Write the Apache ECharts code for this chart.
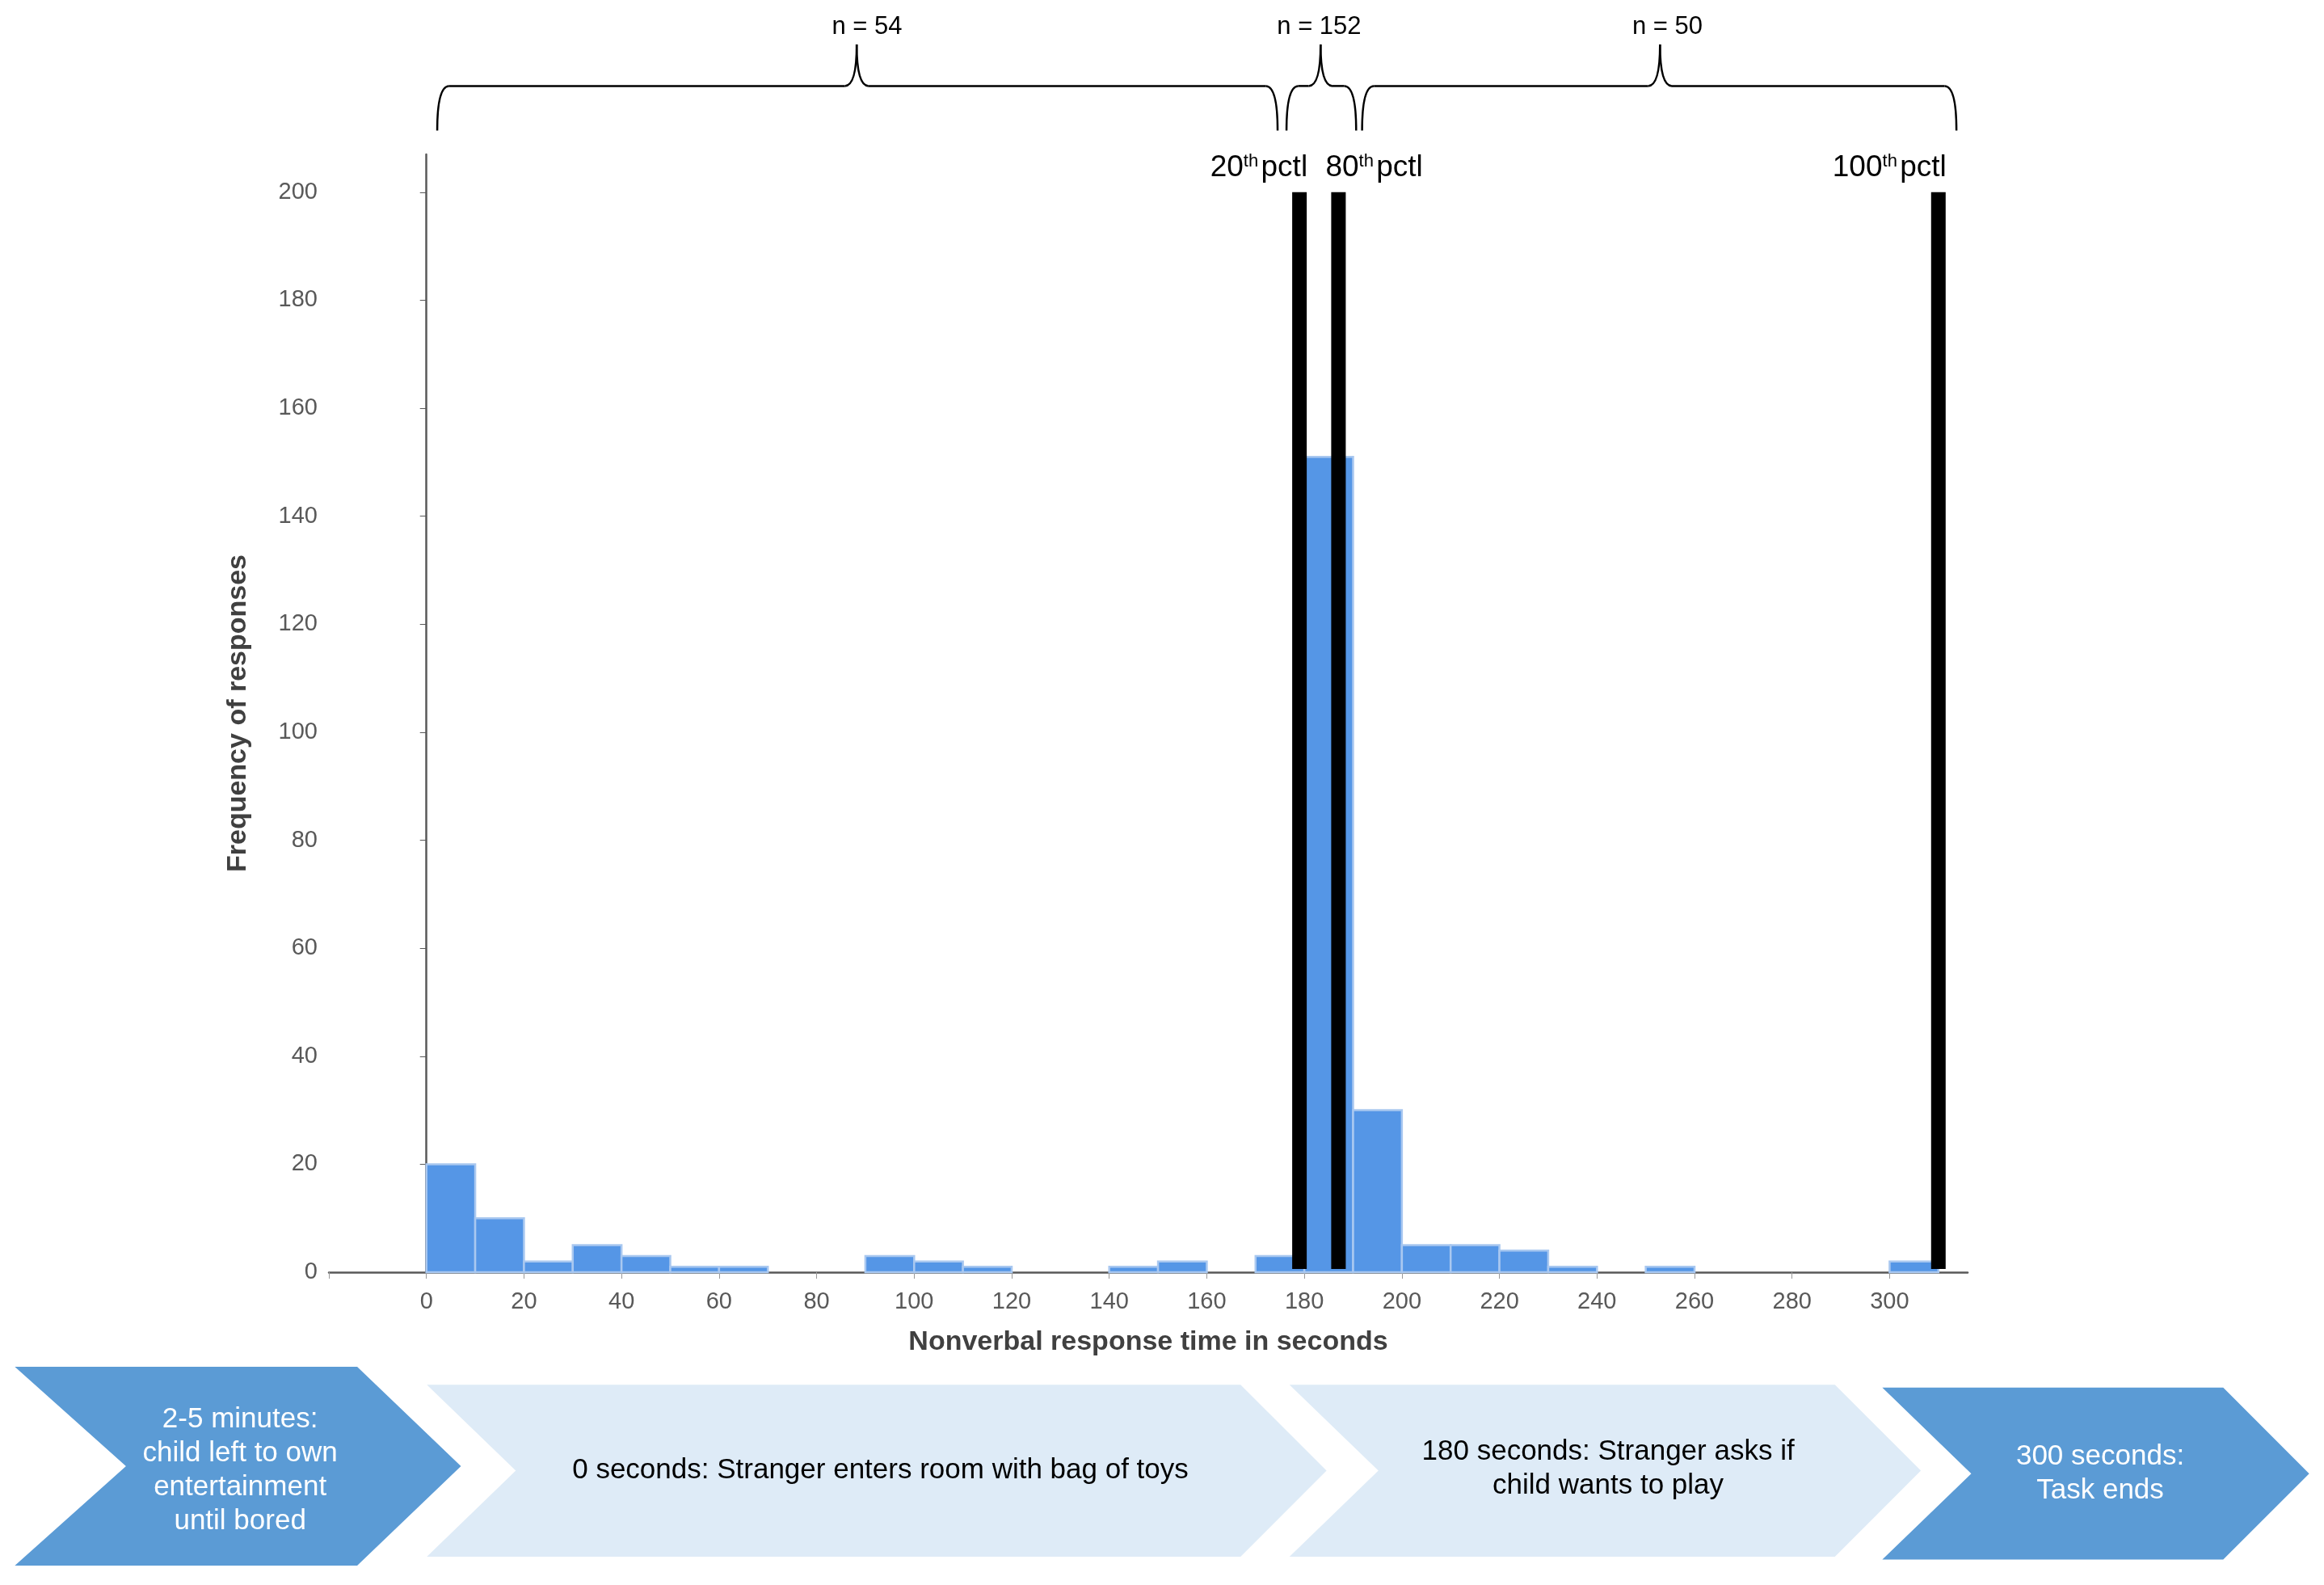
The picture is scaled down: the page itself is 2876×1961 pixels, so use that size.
<!DOCTYPE html>
<html>
<head>
<meta charset="utf-8">
<script src="https://cdn.jsdelivr.net/npm/echarts@6/dist/echarts.min.js"></script>
<style>html,body{margin:0;padding:0;background:#fff}#chart{width:2876px;height:1961px}</style>
</head>
<body>
<div id="chart"></div>
<script>
// histogram bins (start of each 10 s bin) and counts
var binStarts = [0,10,20,30,40,50,60,70,80,90,100,110,120,130,140,150,160,170,180,190,200,210,220,230,240,250,260,270,280,290,300];
var binCounts = [20,10,2,5,3,1,1,0,0,3,2,1,0,0,1,2,0,3,151,30,5,5,4,1,0,1,0,0,0,0,2];
var binWidth = 10;
// percentile markers
var pctlX = [179, 187, 310];
var pctlNames = ['20', '80', '100'];
var braceLabels = ['n = 54', 'n = 152', 'n = 50'];
var xTicks = [0,20,40,60,80,100,120,140,160,180,200,220,240,260,280,300];

var S = 2876 / 1568;
function s(v) { return v * S; }
var FONT = 'Liberation Sans, Arial, sans-serif';

var bars = [];
for (var i = 0; i < binStarts.length; i++) {
  if (binCounts[i] > 0) bars.push([binStarts[i], binStarts[i] + binWidth, binCounts[i]]);
}
var lines = pctlX.map(function (x, i) { return [x, 200, i]; });

function chevron(x0, y0, x1, y1, notch, tip, fill) {
  var ym = (y0 + y1) / 2;
  return {
    type: 'polygon', silent: true,
    shape: { points: [[s(x0), s(y0)], [s(x1 - tip), s(y0)], [s(x1), s(ym)], [s(x1 - tip), s(y1)], [s(x0), s(y1)], [s(x0 + notch), s(ym)]] },
    style: { fill: fill }
  };
}
function label(x, y, text, color) {
  return {
    type: 'text', silent: true, x: s(x), y: s(y),
    style: { text: text, fill: color, font: '35px ' + FONT, align: 'center', verticalAlign: 'middle', lineHeight: 42 }
  };
}
function curve(ax, ay, cx, cy, bx, by) {
  return { type: 'bezierCurve', silent: true,
    shape: { x1: s(ax), y1: s(ay), cpx1: s(cx), cpy1: s(cy), x2: s(bx), y2: s(by) },
    style: { fill: null, stroke: '#000', lineWidth: 2.5 } };
}
function seg(ax, ay, bx, by) {
  return { type: 'line', silent: true, shape: { x1: s(ax), y1: s(ay), x2: s(bx), y2: s(by) },
    style: { stroke: '#000', lineWidth: 2.5 } };
}
function brace(x0, xm, x1, yTop, yBot) {
  var r = 8, yMid = yTop + 28;
  return { type: 'group', silent: true, children: [
    curve(x0, yBot, x0, yMid, x0 + r, yMid),
    seg(x0 + r, yMid, xm - r, yMid),
    curve(xm - r, yMid, xm, yMid, xm, yTop),
    curve(xm, yTop, xm, yMid, xm + r, yMid),
    seg(xm + r, yMid, x1 - r, yMid),
    curve(x1 - r, yMid, x1, yMid, x1, yBot)
  ] };
}
function nText(x, text) {
  return { type: 'text', silent: true, x: s(x), y: s(18),
    style: { text: text, fill: '#000', font: '31px ' + FONT, align: 'center', verticalAlign: 'middle' } };
}

var chart = echarts.init(document.getElementById('chart'));
chart.setOption({
  animation: false,
  backgroundColor: '#fff',
  grid: { left: 407, right: 441, top: 191, bottom: 387 },
  xAxis: {
    type: 'value', min: -20, max: 316, interval: 20,
    name: 'Nonverbal response time in seconds', nameLocation: 'middle', nameGap: 70,
    nameTextStyle: { fontFamily: FONT, fontSize: 34, fontWeight: 'bold', color: '#404040' },
    axisLine: { show: true, onZero: false, lineStyle: { color: '#595959', width: 2.5 } },
    axisTick: { show: true, length: 8, lineStyle: { color: '#999' } },
    axisLabel: { fontFamily: FONT, fontSize: 29, color: '#595959', margin: 22, showMaxLabel: false,
      formatter: function (v) { return xTicks.indexOf(v) >= 0 ? String(v) : ''; } },
    splitLine: { show: false }
  },
  yAxis: {
    type: 'value', min: 0, max: 207, interval: 20,
    name: 'Frequency of responses', nameLocation: 'middle', nameGap: 95,
    nameTextStyle: { fontFamily: FONT, fontSize: 34, fontWeight: 'bold', color: '#404040' },
    axisLine: { show: true, lineStyle: { color: '#595959', width: 2.5 } },
    axisTick: { show: true, length: 8, lineStyle: { color: '#595959' } },
    axisLabel: { fontFamily: FONT, fontSize: 29, color: '#595959', margin: 14, showMaxLabel: false },
    splitLine: { show: false }
  },
  series: [{
    type: 'custom',
    data: bars,
    renderItem: function (params, api) {
      var p0 = api.coord([api.value(0), api.value(2)]);
      var p1 = api.coord([api.value(1), 0]);
      return { type: 'rect', shape: { x: p0[0], y: p0[1], width: p1[0] - p0[0], height: p1[1] - p0[1] },
        style: { fill: '#5596e6', stroke: '#a9c8f0', lineWidth: 2.5 } };
    }
  }, {
    type: 'custom',
    data: lines,
    z: 5,
    renderItem: function (params, api) {
      var top = api.coord([api.value(0), api.value(1)]);
      var bot = api.coord([api.value(0), 0]);
      var idx = api.value(2);
      var lbl = { type: 'text', x: idx === 1 ? top[0] - 16 : top[0] + 10, y: top[1] - 30,
        style: { text: '{n|' + pctlNames[idx] + '}{sup|th} {n|pctl}', align: idx === 1 ? 'left' : 'right', verticalAlign: 'middle',
          rich: { n: { fontFamily: FONT, fontSize: 37, fill: '#000' }, sup: { fontFamily: FONT, fontSize: 22, fill: '#000', verticalAlign: 'top', padding: [0, 0, 14, 0] } } } };
      return { type: 'group', children: [
        { type: 'rect', shape: { x: top[0] - 9, y: top[1], width: 18, height: bot[1] - top[1] - 4 }, style: { fill: '#000' } },
        lbl
      ] };
    }
  }],
  graphic: [
    brace(295, 578, 862, 30, 88), brace(868, 891, 915, 30, 88), brace(919, 1120, 1320, 30, 88),
    nText(585, braceLabels[0]), nText(890, braceLabels[1]), nText(1125, braceLabels[2]),
    chevron(10, 922, 311, 1056, 75, 70, '#5b9bd5'),
    chevron(288, 934, 895, 1050, 60, 58, '#deebf7'),
    chevron(870, 934, 1296, 1050, 60, 58, '#deebf7'),
    chevron(1270, 936, 1558, 1052, 60, 58, '#5b9bd5'),
    label(162, 992, '2-5 minutes:\nchild left to own\nentertainment\nuntil bored', '#fff'),
    label(594, 992, '0 seconds: Stranger enters room with bag of toys', '#000'),
    label(1085, 991, '180 seconds: Stranger asks if\nchild wants to play', '#000'),
    label(1417, 994, '300 seconds:\nTask ends', '#fff')
  ]
});
</script>
</body>
</html>
